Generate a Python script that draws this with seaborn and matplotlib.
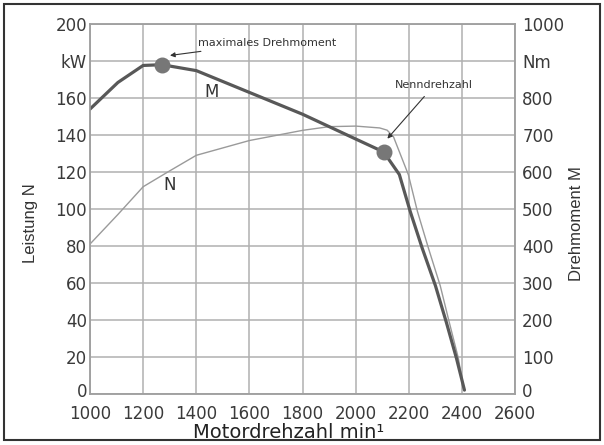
import numpy as np
import pandas as pd
import seaborn as sns
import matplotlib.pyplot as plt
import matplotlib.transforms as mtransforms
from matplotlib import font_manager
from matplotlib.patches import Rectangle
from matplotlib.ticker import MultipleLocator

# Drehmoment M (Nm) ueber Motordrehzahl
m_rpm = [1000, 1105, 1200, 1271, 1400, 1600, 1800, 2000, 2105, 2164, 2205, 2250, 2300, 2341, 2379, 2409]
m_nm = [770, 842, 888, 890, 874, 815, 756, 689, 654, 593, 493, 394, 292, 193, 96, 10]

# Leistung N (kW) ueber Motordrehzahl
n_rpm = [1000, 1105, 1200, 1293, 1400, 1600, 1800, 1900, 2000, 2090, 2118, 2142, 2198, 2232, 2273, 2318, 2352, 2386, 2405]
n_kw = [81, 97, 112, 120, 129, 137, 142.5, 144.5, 144.8, 143.8, 142.6, 139, 118.5, 98.7, 79, 58.4, 38.6, 19.3, 3]

# markierte Punkte
max_torque = (1271, 890)
rated_speed = (2105, 654)

left_ticks = [0, 20, 40, 60, 80, 100, 120, 140, 160, 180, 200]
left_labels = ["0", "20", "40", "60", "80", "100", "120", "140", "160", "kW", "200"]
right_ticks = [0, 100, 200, 300, 400, 500, 600, 700, 800, 900, 1000]
right_labels = ["0", "100", "200", "300", "400", "500", "600", "700", "800", "Nm", "1000"]
x_ticks = list(range(1000, 2601, 200))

sns.set_style("white")
plt.rcParams['font.family'] = ['DejaVu Sans']

names = {f.name for f in font_manager.fontManager.ttflist}
narrow = 'Liberation Sans Narrow' if 'Liberation Sans Narrow' in names else 'Liberation Sans'

df_m = pd.DataFrame({"rpm": m_rpm, "M": m_nm})
df_n = pd.DataFrame({"rpm": n_rpm, "N": n_kw})

fig = plt.figure(figsize=(6.04, 4.45), dpi=100)
ax = fig.add_axes([0.149, 0.115, 0.704, 0.831])
ax2 = ax.twinx()

sns.lineplot(data=df_n, x="rpm", y="N", ax=ax, color="#9a9a9a", linewidth=1.0, sort=False)
sns.lineplot(data=df_m, x="rpm", y="M", ax=ax2, color="#585858", linewidth=2.3, sort=False)
ax2.scatter([max_torque[0], rated_speed[0]], [max_torque[1], rated_speed[1]],
            s=110, color="#777777", zorder=5)

ax.set_xlim(1000, 2600)
ax.set_ylim(0, 200)
ax2.set_ylim(0, 1000)
ax.set_xticks(x_ticks)
ax.xaxis.set_minor_locator(MultipleLocator(100))
ax.set_yticks(left_ticks)
ax.set_yticklabels(left_labels)
ax2.set_yticks(right_ticks)
ax2.set_yticklabels(right_labels)

ax.grid(True, color="#b0b0b0", linewidth=1.1)
ax.set_axisbelow(True)
for a in (ax, ax2):
    for s in a.spines.values():
        s.set_color("#a0a0a0")
        s.set_linewidth(1.1)
ax.tick_params(axis="y", length=0, pad=2, labelsize=12, labelcolor="#3a3a3a")
ax.tick_params(axis="x", which="major", length=0, pad=8, labelsize=12, labelcolor="#3a3a3a")
ax.tick_params(axis="x", which="minor", length=3, color="#a0a0a0", direction="in")
ax2.tick_params(axis="y", length=0, pad=5, labelsize=12, labelcolor="#3a3a3a")

# die "0" an beiden Achsen etwas anheben, damit sie nicht in die x-Beschriftung laeuft
lift = mtransforms.ScaledTranslation(0, 4 / 100, fig.dpi_scale_trans)
for lab in (ax.get_yticklabels()[0], ax2.get_yticklabels()[0]):
    lab.set_transform(lab.get_transform() + lift)

ax.set_xlabel("Motordrehzahl min¹", fontsize=14, color="#222222")
ax.xaxis.set_label_coords(0.466, -0.08)
ax.set_ylabel("Leistung N", fontsize=12, color="#333333", family=narrow)
ax2.set_ylabel("Drehmoment M", fontsize=12, color="#333333", rotation=90, family=narrow)
ax.yaxis.set_label_coords(-0.122, 0.462)
ax2.yaxis.set_label_coords(1.127, 0.46)

ax.text(1459, 163, "M", fontsize=12, color="#333333", ha="center", va="center")
ax.text(1301, 113, "N", fontsize=12, color="#333333", ha="center", va="center")
ax.annotate("maximales Drehmoment", xy=(1301, 183), xytext=(1407, 190),
            fontsize=8, color="#333333", va="center",
            arrowprops=dict(arrowstyle="-|>", color="#333333", lw=0.8,
                            mutation_scale=7, shrinkA=3, shrinkB=0))
ax.annotate("Nenndrehzahl", xy=(2119, 138), xytext=(2149, 167),
            fontsize=8, color="#333333", va="center",
            arrowprops=dict(arrowstyle="-|>", color="#333333", lw=0.8,
                            mutation_scale=7, shrinkA=3, shrinkB=0))

fig.add_artist(Rectangle((4 / 604, 5 / 445), 596 / 604, 436 / 445, transform=fig.transFigure,
                         fill=False, edgecolor="#333333", linewidth=1.5))

fig.savefig("out.png", dpi=100)
